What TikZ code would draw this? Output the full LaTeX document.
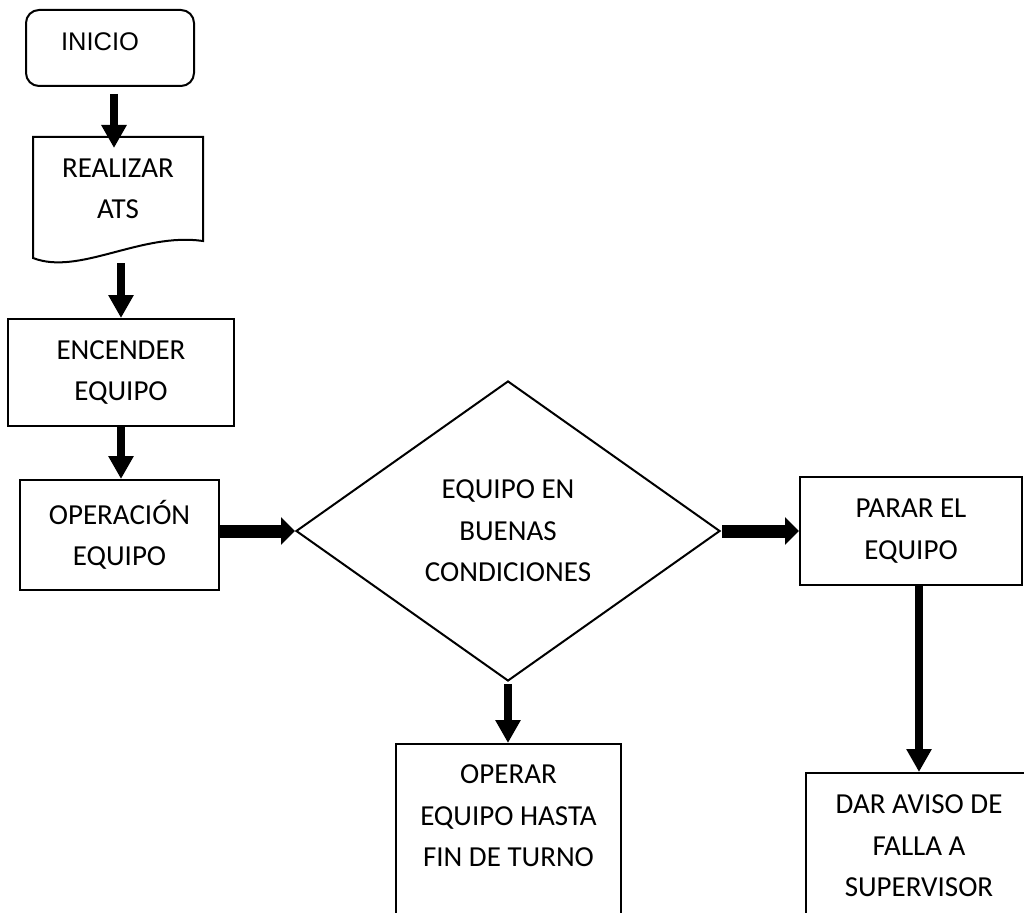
\documentclass[tikz,border=0pt]{standalone}
\usepackage{fontspec}
\setmainfont{Carlito}
\newfontfamily\arialfont{Liberation Sans}
\usepackage{tikz}
\usetikzlibrary{shapes}
\usetikzlibrary{shapes.geometric}
\usetikzlibrary{arrows.meta}
\usetikzlibrary{positioning}

\begin{document}
\begin{tikzpicture}[
	x=1pt, y=-1pt,
	line width=2pt,
	font=\fontsize{29}{41.5}\selectfont
]
\tikzset{
    caja/.style = {rectangle, draw=black, align=center, inner sep=0pt},
		inicionode/.style = {caja, rounded corners=13pt, minimum width=168pt, minimum height=76pt, font=\arialfont\fontsize{25.5}{30}\selectfont},
		decision/.style = {diamond, draw=black, align=center, inner sep=0pt, minimum width=424pt, minimum height=300pt},
		flechaV/.style = {draw=black, line width=8.5pt, -{Triangle[length=23pt,width=24pt]}},
		flechaH/.style = {draw=black, line width=13pt, -{Triangle[length=14pt,width=27pt]}}
}
\useasboundingbox (0,0) rectangle (1024,912);
\clip (0,0) rectangle (1024,912);
\node[inicionode, text depth=12pt] (inicio) at (110,48) {\hspace*{-20pt}INICIO};
\node[caja, draw=none, minimum width=168pt, minimum height=102pt] (ats) at (118,189) {REALIZAR\\ATS};
\draw (ats.north west) -- (ats.north east) -- (ats.south east)
	.. controls +(-62,-9) and +(46,18) .. ([yshift=-17pt]ats.south west) -- cycle;
\node[caja, minimum width=226pt, minimum height=107pt] (encender) at (121,372.5) {ENCENDER\\EQUIPO};
\node[caja, minimum width=199pt, minimum height=110pt] (operacion) at (119.5,535) {OPERACIÓN\\EQUIPO};
\node[decision] (cond) at (508,531) {EQUIPO EN\\BUENAS\\CONDICIONES};
\node[caja, minimum width=222pt, minimum height=108pt] (parar) at (911,531) {PARAR EL\\EQUIPO};
\node[caja, anchor=north, minimum width=225pt, inner ysep=21pt, text depth=150pt] (operar) at (508.5,743) {OPERAR\\EQUIPO HASTA\\FIN DE TURNO};
\node[caja, anchor=north, minimum width=226pt, inner ysep=22pt, text depth=150pt] (aviso) at (919,772) {DAR AVISO DE\\FALLA A\\SUPERVISOR};

\draw[flechaV] ([xshift=4pt,yshift=-7pt]inicio.south) -- ([xshift=-4pt,yshift=-11pt]ats.north);
\draw[flechaV] ([xshift=3pt,yshift=-22pt]ats.south) -- (encender.north);
\draw[flechaV] (encender.south) -- (encender.south |- operacion.north);
\draw[flechaH] (operacion.east |- cond.west) -- (cond.west);
\draw[flechaH] ([xshift=1pt]cond.east) -- (parar.west);
\draw[flechaV] ([yshift=-2pt]cond.south) -- (cond.south |- operar.north);
\draw[flechaV] (parar.south -| aviso.north) -- (aviso.north);
\end{tikzpicture}
\end{document}
